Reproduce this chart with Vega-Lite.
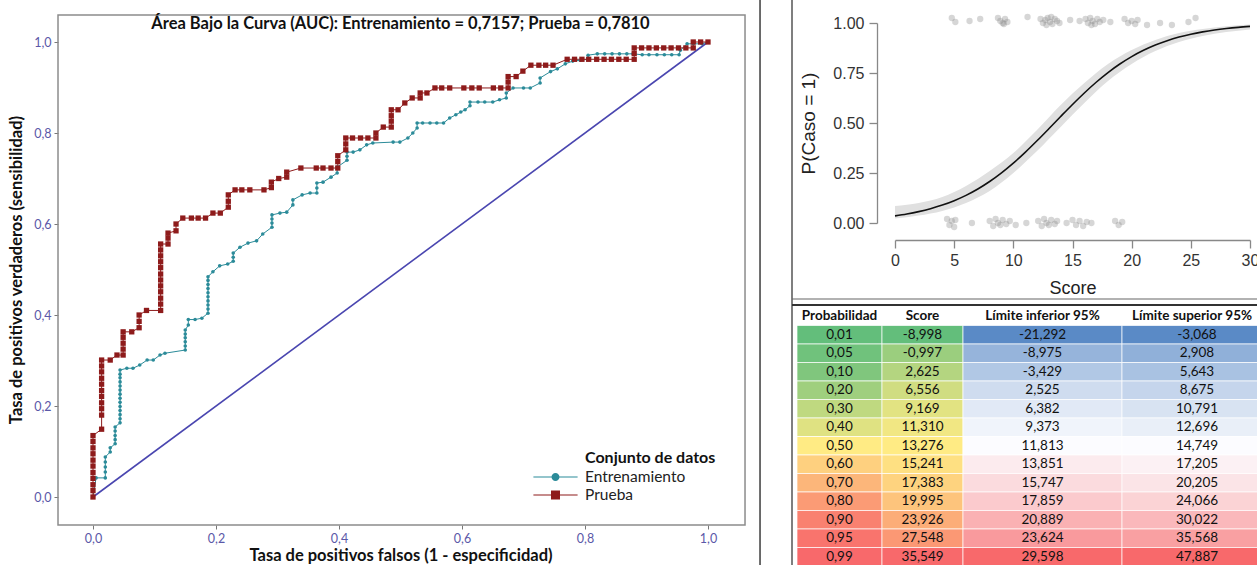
{
  "$schema": "https://vega.github.io/schema/vega-lite/v6.json",
  "width": 1257,
  "height": 565,
  "autosize": {"type": "none"},
  "padding": 0,
  "background": "white",
  "config": {
    "view": {"stroke": null},
    "axis": {"grid": false},
    "locale": {"number": {"decimal": ",", "thousands": ".", "grouping": [3], "currency": ["", ""], "minus": "-"}}
  },
  "datasets": {
    "roc": [
      {"conjunto": "Prueba", "fpr": 0, "tpr": 0}, {"conjunto": "Prueba", "fpr": 0, "tpr": 0.014}, {"conjunto": "Prueba", "fpr": 0, "tpr": 0.027}, {"conjunto": "Prueba", "fpr": 0, "tpr": 0.041}, {"conjunto": "Prueba", "fpr": 0, "tpr": 0.054}, {"conjunto": "Prueba", "fpr": 0, "tpr": 0.068}, {"conjunto": "Prueba", "fpr": 0, "tpr": 0.081}, {"conjunto": "Prueba", "fpr": 0, "tpr": 0.095}, {"conjunto": "Prueba", "fpr": 0, "tpr": 0.108}, {"conjunto": "Prueba", "fpr": 0, "tpr": 0.122}, {"conjunto": "Prueba", "fpr": 0, "tpr": 0.135},
      {"conjunto": "Prueba", "fpr": 0.014, "tpr": 0.149}, {"conjunto": "Prueba", "fpr": 0.014, "tpr": 0.18}, {"conjunto": "Prueba", "fpr": 0.014, "tpr": 0.194}, {"conjunto": "Prueba", "fpr": 0.014, "tpr": 0.207}, {"conjunto": "Prueba", "fpr": 0.014, "tpr": 0.221}, {"conjunto": "Prueba", "fpr": 0.014, "tpr": 0.234}, {"conjunto": "Prueba", "fpr": 0.014, "tpr": 0.248}, {"conjunto": "Prueba", "fpr": 0.014, "tpr": 0.261}, {"conjunto": "Prueba", "fpr": 0.014, "tpr": 0.275}, {"conjunto": "Prueba", "fpr": 0.014, "tpr": 0.288}, {"conjunto": "Prueba", "fpr": 0.014, "tpr": 0.301},
      {"conjunto": "Prueba", "fpr": 0.028, "tpr": 0.301}, {"conjunto": "Prueba", "fpr": 0.039, "tpr": 0.312}, {"conjunto": "Prueba", "fpr": 0.049, "tpr": 0.312}, {"conjunto": "Prueba", "fpr": 0.049, "tpr": 0.325}, {"conjunto": "Prueba", "fpr": 0.049, "tpr": 0.338}, {"conjunto": "Prueba", "fpr": 0.049, "tpr": 0.351}, {"conjunto": "Prueba", "fpr": 0.049, "tpr": 0.363},
      {"conjunto": "Prueba", "fpr": 0.063, "tpr": 0.363}, {"conjunto": "Prueba", "fpr": 0.075, "tpr": 0.372}, {"conjunto": "Prueba", "fpr": 0.075, "tpr": 0.386}, {"conjunto": "Prueba", "fpr": 0.075, "tpr": 0.4}, {"conjunto": "Prueba", "fpr": 0.087, "tpr": 0.41}, {"conjunto": "Prueba", "fpr": 0.11, "tpr": 0.41},
      {"conjunto": "Prueba", "fpr": 0.11, "tpr": 0.424}, {"conjunto": "Prueba", "fpr": 0.11, "tpr": 0.437}, {"conjunto": "Prueba", "fpr": 0.11, "tpr": 0.451}, {"conjunto": "Prueba", "fpr": 0.11, "tpr": 0.464}, {"conjunto": "Prueba", "fpr": 0.11, "tpr": 0.477}, {"conjunto": "Prueba", "fpr": 0.11, "tpr": 0.49}, {"conjunto": "Prueba", "fpr": 0.11, "tpr": 0.504}, {"conjunto": "Prueba", "fpr": 0.11, "tpr": 0.517}, {"conjunto": "Prueba", "fpr": 0.11, "tpr": 0.53}, {"conjunto": "Prueba", "fpr": 0.11, "tpr": 0.543}, {"conjunto": "Prueba", "fpr": 0.11, "tpr": 0.556},
      {"conjunto": "Prueba", "fpr": 0.122, "tpr": 0.556}, {"conjunto": "Prueba", "fpr": 0.122, "tpr": 0.569}, {"conjunto": "Prueba", "fpr": 0.122, "tpr": 0.58}, {"conjunto": "Prueba", "fpr": 0.135, "tpr": 0.585}, {"conjunto": "Prueba", "fpr": 0.135, "tpr": 0.6}, {"conjunto": "Prueba", "fpr": 0.146, "tpr": 0.613}, {"conjunto": "Prueba", "fpr": 0.16, "tpr": 0.613}, {"conjunto": "Prueba", "fpr": 0.171, "tpr": 0.613}, {"conjunto": "Prueba", "fpr": 0.183, "tpr": 0.613}, {"conjunto": "Prueba", "fpr": 0.195, "tpr": 0.624}, {"conjunto": "Prueba", "fpr": 0.207, "tpr": 0.624},
      {"conjunto": "Prueba", "fpr": 0.22, "tpr": 0.637}, {"conjunto": "Prueba", "fpr": 0.22, "tpr": 0.65}, {"conjunto": "Prueba", "fpr": 0.22, "tpr": 0.664}, {"conjunto": "Prueba", "fpr": 0.231, "tpr": 0.675}, {"conjunto": "Prueba", "fpr": 0.242, "tpr": 0.675}, {"conjunto": "Prueba", "fpr": 0.255, "tpr": 0.675}, {"conjunto": "Prueba", "fpr": 0.278, "tpr": 0.675}, {"conjunto": "Prueba", "fpr": 0.29, "tpr": 0.68}, {"conjunto": "Prueba", "fpr": 0.29, "tpr": 0.692}, {"conjunto": "Prueba", "fpr": 0.302, "tpr": 0.7}, {"conjunto": "Prueba", "fpr": 0.315, "tpr": 0.703}, {"conjunto": "Prueba", "fpr": 0.315, "tpr": 0.714}, {"conjunto": "Prueba", "fpr": 0.338, "tpr": 0.723}, {"conjunto": "Prueba", "fpr": 0.363, "tpr": 0.723}, {"conjunto": "Prueba", "fpr": 0.374, "tpr": 0.723}, {"conjunto": "Prueba", "fpr": 0.387, "tpr": 0.723}, {"conjunto": "Prueba", "fpr": 0.398, "tpr": 0.723}, {"conjunto": "Prueba", "fpr": 0.398, "tpr": 0.737}, {"conjunto": "Prueba", "fpr": 0.398, "tpr": 0.75},
      {"conjunto": "Prueba", "fpr": 0.411, "tpr": 0.763}, {"conjunto": "Prueba", "fpr": 0.411, "tpr": 0.776}, {"conjunto": "Prueba", "fpr": 0.411, "tpr": 0.789}, {"conjunto": "Prueba", "fpr": 0.422, "tpr": 0.789}, {"conjunto": "Prueba", "fpr": 0.435, "tpr": 0.789}, {"conjunto": "Prueba", "fpr": 0.447, "tpr": 0.789}, {"conjunto": "Prueba", "fpr": 0.46, "tpr": 0.789}, {"conjunto": "Prueba", "fpr": 0.46, "tpr": 0.8}, {"conjunto": "Prueba", "fpr": 0.472, "tpr": 0.813}, {"conjunto": "Prueba", "fpr": 0.485, "tpr": 0.813}, {"conjunto": "Prueba", "fpr": 0.485, "tpr": 0.826}, {"conjunto": "Prueba", "fpr": 0.485, "tpr": 0.838}, {"conjunto": "Prueba", "fpr": 0.485, "tpr": 0.851}, {"conjunto": "Prueba", "fpr": 0.496, "tpr": 0.851}, {"conjunto": "Prueba", "fpr": 0.507, "tpr": 0.866}, {"conjunto": "Prueba", "fpr": 0.519, "tpr": 0.877}, {"conjunto": "Prueba", "fpr": 0.532, "tpr": 0.877}, {"conjunto": "Prueba", "fpr": 0.532, "tpr": 0.888}, {"conjunto": "Prueba", "fpr": 0.543, "tpr": 0.888},
      {"conjunto": "Prueba", "fpr": 0.556, "tpr": 0.899}, {"conjunto": "Prueba", "fpr": 0.567, "tpr": 0.899}, {"conjunto": "Prueba", "fpr": 0.58, "tpr": 0.899}, {"conjunto": "Prueba", "fpr": 0.603, "tpr": 0.899}, {"conjunto": "Prueba", "fpr": 0.616, "tpr": 0.899}, {"conjunto": "Prueba", "fpr": 0.628, "tpr": 0.899}, {"conjunto": "Prueba", "fpr": 0.651, "tpr": 0.899}, {"conjunto": "Prueba", "fpr": 0.663, "tpr": 0.899}, {"conjunto": "Prueba", "fpr": 0.675, "tpr": 0.899}, {"conjunto": "Prueba", "fpr": 0.675, "tpr": 0.912}, {"conjunto": "Prueba", "fpr": 0.675, "tpr": 0.924}, {"conjunto": "Prueba", "fpr": 0.688, "tpr": 0.924}, {"conjunto": "Prueba", "fpr": 0.699, "tpr": 0.936}, {"conjunto": "Prueba", "fpr": 0.712, "tpr": 0.949}, {"conjunto": "Prueba", "fpr": 0.725, "tpr": 0.949}, {"conjunto": "Prueba", "fpr": 0.736, "tpr": 0.949}, {"conjunto": "Prueba", "fpr": 0.748, "tpr": 0.949},
      {"conjunto": "Prueba", "fpr": 0.771, "tpr": 0.962}, {"conjunto": "Prueba", "fpr": 0.783, "tpr": 0.962}, {"conjunto": "Prueba", "fpr": 0.795, "tpr": 0.962}, {"conjunto": "Prueba", "fpr": 0.806, "tpr": 0.962}, {"conjunto": "Prueba", "fpr": 0.819, "tpr": 0.962}, {"conjunto": "Prueba", "fpr": 0.831, "tpr": 0.962}, {"conjunto": "Prueba", "fpr": 0.843, "tpr": 0.962}, {"conjunto": "Prueba", "fpr": 0.855, "tpr": 0.962}, {"conjunto": "Prueba", "fpr": 0.867, "tpr": 0.962}, {"conjunto": "Prueba", "fpr": 0.88, "tpr": 0.962}, {"conjunto": "Prueba", "fpr": 0.88, "tpr": 0.975}, {"conjunto": "Prueba", "fpr": 0.88, "tpr": 0.987}, {"conjunto": "Prueba", "fpr": 0.892, "tpr": 0.987}, {"conjunto": "Prueba", "fpr": 0.904, "tpr": 0.987}, {"conjunto": "Prueba", "fpr": 0.916, "tpr": 0.987}, {"conjunto": "Prueba", "fpr": 0.928, "tpr": 0.987}, {"conjunto": "Prueba", "fpr": 0.94, "tpr": 0.987}, {"conjunto": "Prueba", "fpr": 0.952, "tpr": 0.987}, {"conjunto": "Prueba", "fpr": 0.964, "tpr": 0.987}, {"conjunto": "Prueba", "fpr": 0.976, "tpr": 0.987}, {"conjunto": "Prueba", "fpr": 0.976, "tpr": 1}, {"conjunto": "Prueba", "fpr": 0.988, "tpr": 1}, {"conjunto": "Prueba", "fpr": 1, "tpr": 1},
      {"conjunto": "Entrenamiento", "fpr": 0, "tpr": 0}, {"conjunto": "Entrenamiento", "fpr": 0.005, "tpr": 0.042}, {"conjunto": "Entrenamiento", "fpr": 0.02, "tpr": 0.042}, {"conjunto": "Entrenamiento", "fpr": 0.02, "tpr": 0.055}, {"conjunto": "Entrenamiento", "fpr": 0.02, "tpr": 0.066}, {"conjunto": "Entrenamiento", "fpr": 0.02, "tpr": 0.077}, {"conjunto": "Entrenamiento", "fpr": 0.02, "tpr": 0.088}, {"conjunto": "Entrenamiento", "fpr": 0.028, "tpr": 0.099}, {"conjunto": "Entrenamiento", "fpr": 0.028, "tpr": 0.108}, {"conjunto": "Entrenamiento", "fpr": 0.036, "tpr": 0.117}, {"conjunto": "Entrenamiento", "fpr": 0.036, "tpr": 0.126}, {"conjunto": "Entrenamiento", "fpr": 0.036, "tpr": 0.135}, {"conjunto": "Entrenamiento", "fpr": 0.036, "tpr": 0.145}, {"conjunto": "Entrenamiento", "fpr": 0.036, "tpr": 0.154},
      {"conjunto": "Entrenamiento", "fpr": 0.044, "tpr": 0.163}, {"conjunto": "Entrenamiento", "fpr": 0.044, "tpr": 0.172}, {"conjunto": "Entrenamiento", "fpr": 0.044, "tpr": 0.181}, {"conjunto": "Entrenamiento", "fpr": 0.044, "tpr": 0.19}, {"conjunto": "Entrenamiento", "fpr": 0.044, "tpr": 0.199}, {"conjunto": "Entrenamiento", "fpr": 0.044, "tpr": 0.208}, {"conjunto": "Entrenamiento", "fpr": 0.044, "tpr": 0.217}, {"conjunto": "Entrenamiento", "fpr": 0.044, "tpr": 0.226}, {"conjunto": "Entrenamiento", "fpr": 0.044, "tpr": 0.235}, {"conjunto": "Entrenamiento", "fpr": 0.044, "tpr": 0.244}, {"conjunto": "Entrenamiento", "fpr": 0.044, "tpr": 0.253}, {"conjunto": "Entrenamiento", "fpr": 0.044, "tpr": 0.262}, {"conjunto": "Entrenamiento", "fpr": 0.044, "tpr": 0.27}, {"conjunto": "Entrenamiento", "fpr": 0.044, "tpr": 0.279},
      {"conjunto": "Entrenamiento", "fpr": 0.055, "tpr": 0.283}, {"conjunto": "Entrenamiento", "fpr": 0.065, "tpr": 0.283}, {"conjunto": "Entrenamiento", "fpr": 0.076, "tpr": 0.29}, {"conjunto": "Entrenamiento", "fpr": 0.088, "tpr": 0.301}, {"conjunto": "Entrenamiento", "fpr": 0.098, "tpr": 0.301}, {"conjunto": "Entrenamiento", "fpr": 0.109, "tpr": 0.312}, {"conjunto": "Entrenamiento", "fpr": 0.117, "tpr": 0.316}, {"conjunto": "Entrenamiento", "fpr": 0.15, "tpr": 0.323}, {"conjunto": "Entrenamiento", "fpr": 0.15, "tpr": 0.332}, {"conjunto": "Entrenamiento", "fpr": 0.15, "tpr": 0.341}, {"conjunto": "Entrenamiento", "fpr": 0.15, "tpr": 0.35}, {"conjunto": "Entrenamiento", "fpr": 0.15, "tpr": 0.358}, {"conjunto": "Entrenamiento", "fpr": 0.15, "tpr": 0.367}, {"conjunto": "Entrenamiento", "fpr": 0.155, "tpr": 0.378}, {"conjunto": "Entrenamiento", "fpr": 0.155, "tpr": 0.39}, {"conjunto": "Entrenamiento", "fpr": 0.166, "tpr": 0.39}, {"conjunto": "Entrenamiento", "fpr": 0.177, "tpr": 0.393},
      {"conjunto": "Entrenamiento", "fpr": 0.187, "tpr": 0.404}, {"conjunto": "Entrenamiento", "fpr": 0.187, "tpr": 0.413}, {"conjunto": "Entrenamiento", "fpr": 0.187, "tpr": 0.422}, {"conjunto": "Entrenamiento", "fpr": 0.187, "tpr": 0.431}, {"conjunto": "Entrenamiento", "fpr": 0.187, "tpr": 0.44}, {"conjunto": "Entrenamiento", "fpr": 0.187, "tpr": 0.449}, {"conjunto": "Entrenamiento", "fpr": 0.187, "tpr": 0.458}, {"conjunto": "Entrenamiento", "fpr": 0.187, "tpr": 0.467}, {"conjunto": "Entrenamiento", "fpr": 0.187, "tpr": 0.476}, {"conjunto": "Entrenamiento", "fpr": 0.187, "tpr": 0.484}, {"conjunto": "Entrenamiento", "fpr": 0.195, "tpr": 0.495}, {"conjunto": "Entrenamiento", "fpr": 0.206, "tpr": 0.508}, {"conjunto": "Entrenamiento", "fpr": 0.219, "tpr": 0.512}, {"conjunto": "Entrenamiento", "fpr": 0.228, "tpr": 0.518}, {"conjunto": "Entrenamiento", "fpr": 0.228, "tpr": 0.527}, {"conjunto": "Entrenamiento", "fpr": 0.228, "tpr": 0.536}, {"conjunto": "Entrenamiento", "fpr": 0.239, "tpr": 0.549}, {"conjunto": "Entrenamiento", "fpr": 0.252, "tpr": 0.558}, {"conjunto": "Entrenamiento", "fpr": 0.266, "tpr": 0.563}, {"conjunto": "Entrenamiento", "fpr": 0.276, "tpr": 0.578},
      {"conjunto": "Entrenamiento", "fpr": 0.291, "tpr": 0.593}, {"conjunto": "Entrenamiento", "fpr": 0.291, "tpr": 0.602}, {"conjunto": "Entrenamiento", "fpr": 0.291, "tpr": 0.611}, {"conjunto": "Entrenamiento", "fpr": 0.291, "tpr": 0.62}, {"conjunto": "Entrenamiento", "fpr": 0.304, "tpr": 0.624}, {"conjunto": "Entrenamiento", "fpr": 0.315, "tpr": 0.626}, {"conjunto": "Entrenamiento", "fpr": 0.325, "tpr": 0.642}, {"conjunto": "Entrenamiento", "fpr": 0.325, "tpr": 0.653}, {"conjunto": "Entrenamiento", "fpr": 0.34, "tpr": 0.664}, {"conjunto": "Entrenamiento", "fpr": 0.353, "tpr": 0.668}, {"conjunto": "Entrenamiento", "fpr": 0.364, "tpr": 0.668}, {"conjunto": "Entrenamiento", "fpr": 0.364, "tpr": 0.679}, {"conjunto": "Entrenamiento", "fpr": 0.364, "tpr": 0.69}, {"conjunto": "Entrenamiento", "fpr": 0.374, "tpr": 0.692}, {"conjunto": "Entrenamiento", "fpr": 0.387, "tpr": 0.703}, {"conjunto": "Entrenamiento", "fpr": 0.397, "tpr": 0.712}, {"conjunto": "Entrenamiento", "fpr": 0.397, "tpr": 0.725},
      {"conjunto": "Entrenamiento", "fpr": 0.413, "tpr": 0.74}, {"conjunto": "Entrenamiento", "fpr": 0.413, "tpr": 0.749}, {"conjunto": "Entrenamiento", "fpr": 0.413, "tpr": 0.758}, {"conjunto": "Entrenamiento", "fpr": 0.423, "tpr": 0.758}, {"conjunto": "Entrenamiento", "fpr": 0.434, "tpr": 0.763}, {"conjunto": "Entrenamiento", "fpr": 0.445, "tpr": 0.774}, {"conjunto": "Entrenamiento", "fpr": 0.455, "tpr": 0.778}, {"conjunto": "Entrenamiento", "fpr": 0.488, "tpr": 0.78}, {"conjunto": "Entrenamiento", "fpr": 0.499, "tpr": 0.78}, {"conjunto": "Entrenamiento", "fpr": 0.512, "tpr": 0.789}, {"conjunto": "Entrenamiento", "fpr": 0.52, "tpr": 0.8}, {"conjunto": "Entrenamiento", "fpr": 0.527, "tpr": 0.811}, {"conjunto": "Entrenamiento", "fpr": 0.527, "tpr": 0.822}, {"conjunto": "Entrenamiento", "fpr": 0.536, "tpr": 0.822}, {"conjunto": "Entrenamiento", "fpr": 0.548, "tpr": 0.822}, {"conjunto": "Entrenamiento", "fpr": 0.559, "tpr": 0.822}, {"conjunto": "Entrenamiento", "fpr": 0.57, "tpr": 0.822},
      {"conjunto": "Entrenamiento", "fpr": 0.58, "tpr": 0.833}, {"conjunto": "Entrenamiento", "fpr": 0.59, "tpr": 0.84}, {"conjunto": "Entrenamiento", "fpr": 0.598, "tpr": 0.846}, {"conjunto": "Entrenamiento", "fpr": 0.605, "tpr": 0.851}, {"conjunto": "Entrenamiento", "fpr": 0.613, "tpr": 0.86}, {"conjunto": "Entrenamiento", "fpr": 0.613, "tpr": 0.868}, {"conjunto": "Entrenamiento", "fpr": 0.626, "tpr": 0.868}, {"conjunto": "Entrenamiento", "fpr": 0.637, "tpr": 0.868}, {"conjunto": "Entrenamiento", "fpr": 0.65, "tpr": 0.868}, {"conjunto": "Entrenamiento", "fpr": 0.661, "tpr": 0.873}, {"conjunto": "Entrenamiento", "fpr": 0.672, "tpr": 0.877}, {"conjunto": "Entrenamiento", "fpr": 0.672, "tpr": 0.888}, {"conjunto": "Entrenamiento", "fpr": 0.683, "tpr": 0.899}, {"conjunto": "Entrenamiento", "fpr": 0.7, "tpr": 0.899}, {"conjunto": "Entrenamiento", "fpr": 0.711, "tpr": 0.899}, {"conjunto": "Entrenamiento", "fpr": 0.727, "tpr": 0.91}, {"conjunto": "Entrenamiento", "fpr": 0.727, "tpr": 0.921}, {"conjunto": "Entrenamiento", "fpr": 0.744, "tpr": 0.935}, {"conjunto": "Entrenamiento", "fpr": 0.755, "tpr": 0.941}, {"conjunto": "Entrenamiento", "fpr": 0.768, "tpr": 0.952}, {"conjunto": "Entrenamiento", "fpr": 0.78, "tpr": 0.958}, {"conjunto": "Entrenamiento", "fpr": 0.792, "tpr": 0.96}, {"conjunto": "Entrenamiento", "fpr": 0.805, "tpr": 0.962}, {"conjunto": "Entrenamiento", "fpr": 0.805, "tpr": 0.971},
      {"conjunto": "Entrenamiento", "fpr": 0.82, "tpr": 0.974}, {"conjunto": "Entrenamiento", "fpr": 0.832, "tpr": 0.974}, {"conjunto": "Entrenamiento", "fpr": 0.844, "tpr": 0.974}, {"conjunto": "Entrenamiento", "fpr": 0.856, "tpr": 0.974}, {"conjunto": "Entrenamiento", "fpr": 0.868, "tpr": 0.974}, {"conjunto": "Entrenamiento", "fpr": 0.878, "tpr": 0.974}, {"conjunto": "Entrenamiento", "fpr": 0.893, "tpr": 0.972}, {"conjunto": "Entrenamiento", "fpr": 0.904, "tpr": 0.972}, {"conjunto": "Entrenamiento", "fpr": 0.917, "tpr": 0.972}, {"conjunto": "Entrenamiento", "fpr": 0.929, "tpr": 0.972}, {"conjunto": "Entrenamiento", "fpr": 0.941, "tpr": 0.972}, {"conjunto": "Entrenamiento", "fpr": 0.953, "tpr": 0.972}, {"conjunto": "Entrenamiento", "fpr": 0.955, "tpr": 0.982}, {"conjunto": "Entrenamiento", "fpr": 0.966, "tpr": 0.996}, {"conjunto": "Entrenamiento", "fpr": 0.976, "tpr": 0.996}, {"conjunto": "Entrenamiento", "fpr": 0.99, "tpr": 0.996}, {"conjunto": "Entrenamiento", "fpr": 1, "tpr": 1}
    ],
    "curva": [
      {"score": 0, "p": 0.0356}, {"score": 1, "p": 0.045}, {"score": 2, "p": 0.0568}, {"score": 3, "p": 0.0714}, {"score": 4, "p": 0.0895}, {"score": 5, "p": 0.1116}, {"score": 6, "p": 0.1382}, {"score": 7, "p": 0.1701}, {"score": 8, "p": 0.2075}, {"score": 9, "p": 0.2507}, {"score": 10, "p": 0.2994}, {"score": 11, "p": 0.3532}, {"score": 12, "p": 0.411}, {"score": 13, "p": 0.4713}, {"score": 14, "p": 0.5325}, {"score": 15, "p": 0.5927}, {"score": 16, "p": 0.6502}, {"score": 17, "p": 0.7037}, {"score": 18, "p": 0.7521}, {"score": 19, "p": 0.7949}, {"score": 20, "p": 0.832}, {"score": 21, "p": 0.8635}, {"score": 22, "p": 0.8899}, {"score": 23, "p": 0.9117}, {"score": 24, "p": 0.9296}, {"score": 25, "p": 0.944}, {"score": 26, "p": 0.9556}, {"score": 27, "p": 0.965}, {"score": 28, "p": 0.9724}, {"score": 29, "p": 0.9783}, {"score": 30, "p": 0.9829}
    ],
    "banda": [
      {"score": 0, "lo": 0.022, "hi": 0.085}, {"score": 2, "lo": 0.037, "hi": 0.1}, {"score": 4, "lo": 0.06, "hi": 0.13}, {"score": 6, "lo": 0.1, "hi": 0.185}, {"score": 8, "lo": 0.16, "hi": 0.26}, {"score": 10, "lo": 0.25, "hi": 0.35}, {"score": 12, "lo": 0.36, "hi": 0.465}, {"score": 14, "lo": 0.48, "hi": 0.59}, {"score": 16, "lo": 0.6, "hi": 0.7}, {"score": 18, "lo": 0.71, "hi": 0.795}, {"score": 20, "lo": 0.795, "hi": 0.865}, {"score": 22, "lo": 0.86, "hi": 0.915}, {"score": 24, "lo": 0.905, "hi": 0.95}, {"score": 26, "lo": 0.935, "hi": 0.97}, {"score": 28, "lo": 0.955, "hi": 0.984}, {"score": 30, "lo": 0.968, "hi": 0.992}
    ],
    "obs": [
      {"score": 4.8, "caso": 1, "yj": 1.025}, {"score": 5.1, "caso": 1, "yj": 1.005}, {"score": 6.3, "caso": 1, "yj": 1.01}, {"score": 7.2, "caso": 1, "yj": 1.02}, {"score": 8.7, "caso": 1, "yj": 1.025}, {"score": 8.9, "caso": 1, "yj": 1.01}, {"score": 9.1, "caso": 1, "yj": 1.0}, {"score": 9.3, "caso": 1, "yj": 1.02}, {"score": 9.5, "caso": 1, "yj": 1.005}, {"score": 9.2, "caso": 1, "yj": 0.995}, {"score": 11.2, "caso": 1, "yj": 1.03}, {"score": 12.3, "caso": 1, "yj": 1.02}, {"score": 12.5, "caso": 1, "yj": 1.0}, {"score": 12.7, "caso": 1, "yj": 1.015}, {"score": 12.9, "caso": 1, "yj": 1.025}, {"score": 13.1, "caso": 1, "yj": 1.005}, {"score": 13.3, "caso": 1, "yj": 0.995}, {"score": 13.5, "caso": 1, "yj": 1.02}, {"score": 13.7, "caso": 1, "yj": 1.01}, {"score": 12.8, "caso": 1, "yj": 0.99}, {"score": 13.2, "caso": 1, "yj": 1.03}, {"score": 13.9, "caso": 1, "yj": 1.0}, {"score": 14.8, "caso": 1, "yj": 1.015}, {"score": 15.6, "caso": 1, "yj": 1.01}, {"score": 16.1, "caso": 1, "yj": 1.02}, {"score": 16.3, "caso": 1, "yj": 1.0}, {"score": 16.5, "caso": 1, "yj": 1.025}, {"score": 16.7, "caso": 1, "yj": 1.01}, {"score": 16.9, "caso": 1, "yj": 0.995}, {"score": 17.1, "caso": 1, "yj": 1.02}, {"score": 17.3, "caso": 1, "yj": 1.005}, {"score": 17.6, "caso": 1, "yj": 1.015}, {"score": 16.6, "caso": 1, "yj": 0.99}, {"score": 18.2, "caso": 1, "yj": 1.005}, {"score": 19.4, "caso": 1, "yj": 1.02}, {"score": 19.7, "caso": 1, "yj": 1.0}, {"score": 20.0, "caso": 1, "yj": 1.01}, {"score": 20.3, "caso": 1, "yj": 0.995}, {"score": 20.5, "caso": 1, "yj": 1.015}, {"score": 21.3, "caso": 1, "yj": 0.99}, {"score": 22.4, "caso": 1, "yj": 1.0}, {"score": 23.4, "caso": 1, "yj": 0.99}, {"score": 24.8, "caso": 1, "yj": 1.005}, {"score": 25.4, "caso": 1, "yj": 1.025},
      {"score": 4.4, "caso": 0, "yj": 0.02}, {"score": 4.6, "caso": 0, "yj": -0.01}, {"score": 4.8, "caso": 0, "yj": 0.01}, {"score": 5.0, "caso": 0, "yj": -0.02}, {"score": 5.1, "caso": 0, "yj": 0.015}, {"score": 6.5, "caso": 0, "yj": 0.0}, {"score": 8.0, "caso": 0, "yj": 0.01}, {"score": 8.3, "caso": 0, "yj": -0.015}, {"score": 8.5, "caso": 0, "yj": 0.02}, {"score": 8.7, "caso": 0, "yj": 0.0}, {"score": 8.9, "caso": 0, "yj": -0.01}, {"score": 9.1, "caso": 0, "yj": 0.015}, {"score": 9.4, "caso": 0, "yj": -0.005}, {"score": 9.7, "caso": 0, "yj": 0.01}, {"score": 10.2, "caso": 0, "yj": -0.01}, {"score": 11.1, "caso": 0, "yj": 0.0}, {"score": 12.1, "caso": 0, "yj": 0.01}, {"score": 12.4, "caso": 0, "yj": -0.015}, {"score": 12.6, "caso": 0, "yj": 0.02}, {"score": 12.8, "caso": 0, "yj": 0.0}, {"score": 13.0, "caso": 0, "yj": -0.01}, {"score": 13.2, "caso": 0, "yj": 0.015}, {"score": 13.5, "caso": 0, "yj": -0.005}, {"score": 13.7, "caso": 0, "yj": 0.01}, {"score": 14.5, "caso": 0, "yj": 0.0}, {"score": 15.0, "caso": 0, "yj": 0.015}, {"score": 15.3, "caso": 0, "yj": -0.01}, {"score": 15.6, "caso": 0, "yj": 0.01}, {"score": 15.9, "caso": 0, "yj": -0.015}, {"score": 16.2, "caso": 0, "yj": 0.005}, {"score": 16.6, "caso": 0, "yj": 0.0}, {"score": 18.6, "caso": 0, "yj": 0.01}, {"score": 18.9, "caso": 0, "yj": -0.01}, {"score": 19.2, "caso": 0, "yj": 0.005}
    ],
    "tabla": [
      {"p": 0.01, "s": -8.998, "lo": -21.292, "hi": -3.068},
      {"p": 0.05, "s": -0.997, "lo": -8.975, "hi": 2.908},
      {"p": 0.1, "s": 2.625, "lo": -3.429, "hi": 5.643},
      {"p": 0.2, "s": 6.556, "lo": 2.525, "hi": 8.675},
      {"p": 0.3, "s": 9.169, "lo": 6.382, "hi": 10.791},
      {"p": 0.4, "s": 11.31, "lo": 9.373, "hi": 12.696},
      {"p": 0.5, "s": 13.276, "lo": 11.813, "hi": 14.749},
      {"p": 0.6, "s": 15.241, "lo": 13.851, "hi": 17.205},
      {"p": 0.7, "s": 17.383, "lo": 15.747, "hi": 20.205},
      {"p": 0.8, "s": 19.995, "lo": 17.859, "hi": 24.066},
      {"p": 0.9, "s": 23.926, "lo": 20.889, "hi": 30.022},
      {"p": 0.95, "s": 27.548, "lo": 23.624, "hi": 35.568},
      {"p": 0.99, "s": 35.549, "lo": 29.598, "hi": 47.887}
    ]
  },
  "resolve": {"scale": {"x": "independent", "y": "independent", "fill": "independent"}},
  "layer": [
    {
      "data": {"values": [{}]},
      "mark": {"type": "rect", "fill": "transparent", "stroke": "#8c8c8c", "strokeWidth": 1.5},
      "encoding": {
        "x": {"datum": -0.0569, "type": "quantitative", "scale": {"domain": [0, 1], "range": [93, 708], "nice": false, "zero": false}, "axis": null},
        "x2": {"datum": 1.0602},
        "y": {"datum": 1.0593, "type": "quantitative", "scale": {"domain": [0, 1], "range": [497, 42], "nice": false, "zero": false}, "axis": null},
        "y2": {"datum": -0.0615}
      }
    },
    {
      "data": {"values": [{}]},
      "mark": {"type": "rule", "color": "#3c3c3c", "strokeWidth": 1.5},
      "encoding": {
        "x": {"datum": 1.0846, "type": "quantitative", "scale": {"domain": [0, 1], "range": [93, 708], "nice": false, "zero": false}, "axis": null},
        "y": {"datum": -0.2, "type": "quantitative", "scale": {"domain": [0, 1], "range": [497, 42], "nice": false, "zero": false}, "axis": null},
        "y2": {"datum": 1.2}
      }
    },
    {
      "data": {"values": [{"fpr": 0, "tpr": 0}, {"fpr": 1, "tpr": 1}]},
      "mark": {"type": "line", "color": "#4a46b0", "strokeWidth": 1.6},
      "encoding": {
        "x": {"field": "fpr", "type": "quantitative", "scale": {"domain": [0, 1], "range": [93, 708], "nice": false, "zero": false},
          "axis": {"orient": "bottom", "offset": -40, "values": [0, 0.2, 0.4, 0.6, 0.8, 1], "format": ".1f", "domain": false, "tickSize": 4, "tickColor": "#777", "labelColor": "#5b58a8", "labelFont": "Lato", "labelFontSize": 12.5, "labelPadding": 3, "labelFlush": false, "title": "Tasa de positivos falsos (1 - especificidad)", "titleFont": "Lato", "titleFontSize": 16.5, "titleFontWeight": "bold", "titleColor": "#111", "titlePadding": 3}},
        "y": {"field": "tpr", "type": "quantitative", "scale": {"domain": [0, 1], "range": [497, 42], "nice": false, "zero": false},
          "axis": {"orient": "left", "offset": -58, "values": [0, 0.2, 0.4, 0.6, 0.8, 1], "format": ".1f", "domain": false, "tickSize": 4, "tickColor": "#777", "labelColor": "#5b58a8", "labelFont": "Lato", "labelFontSize": 12.5, "labelPadding": 3, "title": "Tasa de positivos verdaderos (sensibilidad)", "titleFont": "Lato", "titleFontSize": 16.5, "titleFontWeight": "bold", "titleColor": "#111", "titlePadding": 9}}
      }
    },
    {
      "data": {"name": "roc"},
      "transform": [{"filter": "datum.conjunto === 'Entrenamiento'"}],
      "mark": {"type": "line", "color": "#2b8b99", "strokeWidth": 1},
      "encoding": {
        "x": {"field": "fpr", "type": "quantitative", "scale": {"domain": [0, 1], "range": [93, 708], "nice": false, "zero": false}, "axis": null},
        "y": {"field": "tpr", "type": "quantitative", "scale": {"domain": [0, 1], "range": [497, 42], "nice": false, "zero": false}, "axis": null}
      }
    },
    {
      "data": {"name": "roc"},
      "transform": [{"filter": "datum.conjunto === 'Prueba'"}],
      "mark": {"type": "line", "color": "#8e1b1b", "strokeWidth": 1},
      "encoding": {
        "x": {"field": "fpr", "type": "quantitative", "scale": {"domain": [0, 1], "range": [93, 708], "nice": false, "zero": false}, "axis": null},
        "y": {"field": "tpr", "type": "quantitative", "scale": {"domain": [0, 1], "range": [497, 42], "nice": false, "zero": false}, "axis": null}
      }
    },
    {
      "data": {"name": "roc"},
      "transform": [{"filter": "datum.conjunto === 'Entrenamiento'"}],
      "mark": {"type": "point", "shape": "circle", "filled": true, "opacity": 1, "size": 13, "color": "#2b8b99"},
      "encoding": {
        "x": {"field": "fpr", "type": "quantitative", "scale": {"domain": [0, 1], "range": [93, 708], "nice": false, "zero": false}, "axis": null},
        "y": {"field": "tpr", "type": "quantitative", "scale": {"domain": [0, 1], "range": [497, 42], "nice": false, "zero": false}, "axis": null}
      }
    },
    {
      "data": {"name": "roc"},
      "transform": [{"filter": "datum.conjunto === 'Prueba'"}],
      "mark": {"type": "point", "shape": "square", "filled": true, "opacity": 1, "size": 28, "color": "#8e1b1b"},
      "encoding": {
        "x": {"field": "fpr", "type": "quantitative", "scale": {"domain": [0, 1], "range": [93, 708], "nice": false, "zero": false}, "axis": null},
        "y": {"field": "tpr", "type": "quantitative", "scale": {"domain": [0, 1], "range": [497, 42], "nice": false, "zero": false}, "axis": null}
      }
    },
    {
      "data": {"name": "roc"},
      "transform": [{"filter": "datum.fpr > 5"}],
      "mark": {"type": "point", "filled": true, "opacity": 1},
      "encoding": {
        "x": {"field": "fpr", "type": "quantitative", "scale": {"domain": [0, 1], "range": [93, 708], "nice": false, "zero": false}, "axis": null},
        "y": {"field": "tpr", "type": "quantitative", "scale": {"domain": [0, 1], "range": [497, 42], "nice": false, "zero": false}, "axis": null},
        "color": {"field": "conjunto", "type": "nominal", "scale": {"domain": ["Entrenamiento", "Prueba"], "range": ["#2b8b99", "#8e1b1b"]},
          "legend": {"orient": "none", "legendX": 546, "legendY": 467.5, "padding": 0, "rowPadding": 0, "labelOffset": 20, "symbolSize": 289, "title": null, "labelFont": "Lato", "labelFontSize": 15.5, "labelColor": "#222", "symbolOpacity": 1}},
        "shape": {"field": "conjunto", "type": "nominal", "scale": {"domain": ["Entrenamiento", "Prueba"], "range": ["M-2.6,-0.06H-0.45V0.06H-2.6Z M0.45,-0.06H2.6V0.06H0.45Z M0.47,0A0.47,0.47,0,1,1,-0.47,0A0.47,0.47,0,1,1,0.47,0Z", "M-2.6,-0.06H-0.5V0.06H-2.6Z M0.5,-0.06H2.6V0.06H0.5Z M-0.53,-0.53H0.53V0.53H-0.53Z"]},
          "legend": {"orient": "none", "legendX": 546, "legendY": 467.5, "padding": 0, "rowPadding": 0, "labelOffset": 20, "symbolSize": 289, "title": null, "labelFont": "Lato", "labelFontSize": 15.5, "labelColor": "#222", "symbolOpacity": 1}}
      }
    },
    {
      "data": {"values": [{"t": "Conjunto de datos"}]},
      "mark": {"type": "text", "font": "Lato", "fontSize": 16, "fontWeight": "bold", "color": "#111", "align": "left"},
      "encoding": {
        "x": {"datum": 0.8, "type": "quantitative", "scale": {"domain": [0, 1], "range": [93, 708], "nice": false, "zero": false}, "axis": null},
        "y": {"datum": 0.0857, "type": "quantitative", "scale": {"domain": [0, 1], "range": [497, 42], "nice": false, "zero": false}, "axis": null},
        "text": {"field": "t", "type": "nominal"}
      }
    },
    {
      "data": {"values": [{"t": "Área Bajo la Curva (AUC): Entrenamiento = 0,7157; Prueba = 0,7810"}]},
      "mark": {"type": "text", "font": "Lato", "fontSize": 16.5, "fontWeight": "bold", "color": "#111"},
      "encoding": {
        "x": {"datum": 0.5, "type": "quantitative", "scale": {"domain": [0, 1], "range": [93, 708], "nice": false, "zero": false}, "axis": null},
        "y": {"datum": 1.0396, "type": "quantitative", "scale": {"domain": [0, 1], "range": [497, 42], "nice": false, "zero": false}, "axis": null},
        "text": {"field": "t", "type": "nominal"}
      }
    },
    {
      "data": {"name": "banda"},
      "mark": {"type": "area", "color": "#e0e0e0", "interpolate": "monotone", "opacity": 1},
      "encoding": {
        "x": {"field": "score", "type": "quantitative", "scale": {"domain": [0, 30], "range": [895, 1250], "nice": false, "zero": false}, "axis": null},
        "y": {"field": "lo", "type": "quantitative", "scale": {"domain": [0, 1], "range": [223, 23], "nice": false, "zero": false}, "axis": null},
        "y2": {"field": "hi"}
      }
    },
    {
      "data": {"name": "curva"},
      "mark": {"type": "line", "color": "#111111", "strokeWidth": 1.6, "interpolate": "monotone"},
      "encoding": {
        "x": {"field": "score", "type": "quantitative", "scale": {"domain": [0, 30], "range": [895, 1250], "nice": false, "zero": false},
          "axis": {"orient": "bottom", "offset": -325, "values": [0, 5, 10, 15, 20, 25, 30], "format": "d", "domainColor": "#888", "domainWidth": 1.3, "tickSize": 8, "tickColor": "#888", "tickWidth": 1.3, "labelFont": "Liberation Sans", "labelFontSize": 16, "labelColor": "#333", "labelPadding": 4, "labelFlush": false, "labelOverlap": false, "title": "Score", "titleFont": "Liberation Sans", "titleFontSize": 18, "titleFontWeight": "normal", "titleColor": "#222", "titlePadding": 11}},
        "y": {"field": "p", "type": "quantitative", "scale": {"domain": [0, 1], "range": [223, 23], "nice": false, "zero": false},
          "axis": {"orient": "left", "offset": -877, "values": [0, 0.25, 0.5, 0.75, 1], "format": ".2f", "labelExpr": "replace(datum.label, ',', '.')", "domainColor": "#888", "domainWidth": 1.3, "tickSize": 8, "tickColor": "#888", "tickWidth": 1.3, "labelFont": "Liberation Sans", "labelFontSize": 16, "labelColor": "#333", "labelPadding": 5, "labelOverlap": false, "title": "P(Caso = 1)", "titleFont": "Liberation Sans", "titleFontSize": 19, "titleFontWeight": "normal", "titleColor": "#222", "titlePadding": 14}}
      }
    },
    {
      "data": {"name": "obs"},
      "mark": {"type": "circle", "color": "#8a8a8a", "opacity": 0.35, "size": 40},
      "encoding": {
        "x": {"field": "score", "type": "quantitative", "scale": {"domain": [0, 30], "range": [895, 1250], "nice": false, "zero": false}, "axis": null},
        "y": {"field": "yj", "type": "quantitative", "scale": {"domain": [0, 1], "range": [223, 23], "nice": false, "zero": false}, "axis": null}
      }
    },
    {
      "data": {"values": [{}]},
      "mark": {"type": "rule", "color": "#555555", "strokeWidth": 1.5},
      "encoding": {
        "x": {"datum": -8.704, "type": "quantitative", "scale": {"domain": [0, 30], "range": [895, 1250], "nice": false, "zero": false}, "axis": null},
        "y": {"datum": -1.8, "type": "quantitative", "scale": {"domain": [0, 1], "range": [223, 23], "nice": false, "zero": false}, "axis": null},
        "y2": {"datum": 1.2}
      }
    },
    {
      "data": {"values": [{}]},
      "mark": {"type": "rule", "color": "#666666", "strokeWidth": 1.2},
      "encoding": {
        "x": {"datum": -8.704, "type": "quantitative", "scale": {"domain": [0, 30], "range": [895, 1250], "nice": false, "zero": false}, "axis": null},
        "x2": {"datum": 32},
        "y": {"datum": -0.38, "type": "quantitative", "scale": {"domain": [0, 1], "range": [223, 23], "nice": false, "zero": false}, "axis": null}
      }
    },
    {
      "data": {"values": [{}]},
      "mark": {"type": "rule", "color": "#333333", "strokeWidth": 2},
      "encoding": {
        "x": {"datum": -8.704, "type": "quantitative", "scale": {"domain": [0, 30], "range": [895, 1250], "nice": false, "zero": false}, "axis": null},
        "x2": {"datum": 32},
        "y": {"datum": -0.41, "type": "quantitative", "scale": {"domain": [0, 1], "range": [223, 23], "nice": false, "zero": false}, "axis": null}
      }
    },
    {
      "data": {"name": "tabla"},
      "mark": {"type": "rect", "stroke": "white", "strokeWidth": 0.7},
      "encoding": {
        "x": {"datum": 5, "type": "quantitative", "scale": {"domain": [0, 465], "range": [792, 1257], "nice": false, "zero": false}, "axis": null},
        "x2": {"datum": 90},
        "y": {"field": "p", "type": "ordinal", "scale": {"domain": ["hdr", 0.01, 0.05, 0.1, 0.2, 0.3, 0.4, 0.5, 0.6, 0.7, 0.8, 0.9, 0.95, 0.99], "range": [307, 566], "paddingInner": 0, "paddingOuter": 0}, "axis": null},
        "fill": {"field": "p", "type": "quantitative", "scale": {"domain": [0.01, 0.5, 0.99], "range": ["#63be7b", "#ffeb84", "#f8696b"], "interpolate": "rgb"}, "legend": null}
      }
    },
    {
      "data": {"name": "tabla"},
      "mark": {"type": "rect", "stroke": "white", "strokeWidth": 0.7},
      "encoding": {
        "x": {"datum": 90, "type": "quantitative", "scale": {"domain": [0, 465], "range": [792, 1257], "nice": false, "zero": false}, "axis": null},
        "x2": {"datum": 171},
        "y": {"field": "p", "type": "ordinal", "scale": {"domain": ["hdr", 0.01, 0.05, 0.1, 0.2, 0.3, 0.4, 0.5, 0.6, 0.7, 0.8, 0.9, 0.95, 0.99], "range": [307, 566], "paddingInner": 0, "paddingOuter": 0}, "axis": null},
        "fill": {"field": "s", "type": "quantitative", "scale": {"domain": [-8.998, 13.276, 35.549], "range": ["#63be7b", "#ffeb84", "#f8696b"], "interpolate": "rgb"}, "legend": null}
      }
    },
    {
      "data": {"name": "tabla"},
      "mark": {"type": "rect", "stroke": "white", "strokeWidth": 0.7},
      "encoding": {
        "x": {"datum": 171, "type": "quantitative", "scale": {"domain": [0, 465], "range": [792, 1257], "nice": false, "zero": false}, "axis": null},
        "x2": {"datum": 330},
        "y": {"field": "p", "type": "ordinal", "scale": {"domain": ["hdr", 0.01, 0.05, 0.1, 0.2, 0.3, 0.4, 0.5, 0.6, 0.7, 0.8, 0.9, 0.95, 0.99], "range": [307, 566], "paddingInner": 0, "paddingOuter": 0}, "axis": null},
        "fill": {"field": "lo", "type": "quantitative", "scale": {"domain": [-21.292, 11.813, 29.598], "range": ["#5a8ac6", "#fcfcff", "#f8696b"], "interpolate": "rgb"}, "legend": null}
      }
    },
    {
      "data": {"name": "tabla"},
      "mark": {"type": "rect", "stroke": "white", "strokeWidth": 0.7},
      "encoding": {
        "x": {"datum": 330, "type": "quantitative", "scale": {"domain": [0, 465], "range": [792, 1257], "nice": false, "zero": false}, "axis": null},
        "x2": {"datum": 475},
        "y": {"field": "p", "type": "ordinal", "scale": {"domain": ["hdr", 0.01, 0.05, 0.1, 0.2, 0.3, 0.4, 0.5, 0.6, 0.7, 0.8, 0.9, 0.95, 0.99], "range": [307, 566], "paddingInner": 0, "paddingOuter": 0}, "axis": null},
        "fill": {"field": "hi", "type": "quantitative", "scale": {"domain": [-3.068, 14.749, 47.887], "range": ["#5a8ac6", "#fcfcff", "#f8696b"], "interpolate": "rgb"}, "legend": null}
      }
    },
    {
      "data": {"name": "tabla"},
      "mark": {"type": "text", "font": "Lato", "fontSize": 13.5, "color": "#111"},
      "encoding": {
        "x": {"datum": 47.5, "type": "quantitative", "scale": {"domain": [0, 465], "range": [792, 1257], "nice": false, "zero": false}, "axis": null},
        "y": {"field": "p", "type": "ordinal", "scale": {"domain": ["hdr", 0.01, 0.05, 0.1, 0.2, 0.3, 0.4, 0.5, 0.6, 0.7, 0.8, 0.9, 0.95, 0.99], "range": [307, 566], "paddingInner": 0, "paddingOuter": 0}, "axis": null},
        "text": {"field": "p", "type": "quantitative", "format": ".2f"}
      }
    },
    {
      "data": {"name": "tabla"},
      "mark": {"type": "text", "font": "Lato", "fontSize": 13.5, "color": "#111"},
      "encoding": {
        "x": {"datum": 130.5, "type": "quantitative", "scale": {"domain": [0, 465], "range": [792, 1257], "nice": false, "zero": false}, "axis": null},
        "y": {"field": "p", "type": "ordinal", "scale": {"domain": ["hdr", 0.01, 0.05, 0.1, 0.2, 0.3, 0.4, 0.5, 0.6, 0.7, 0.8, 0.9, 0.95, 0.99], "range": [307, 566], "paddingInner": 0, "paddingOuter": 0}, "axis": null},
        "text": {"field": "s", "type": "quantitative", "format": ".3f"}
      }
    },
    {
      "data": {"name": "tabla"},
      "mark": {"type": "text", "font": "Lato", "fontSize": 13.5, "color": "#111"},
      "encoding": {
        "x": {"datum": 250.5, "type": "quantitative", "scale": {"domain": [0, 465], "range": [792, 1257], "nice": false, "zero": false}, "axis": null},
        "y": {"field": "p", "type": "ordinal", "scale": {"domain": ["hdr", 0.01, 0.05, 0.1, 0.2, 0.3, 0.4, 0.5, 0.6, 0.7, 0.8, 0.9, 0.95, 0.99], "range": [307, 566], "paddingInner": 0, "paddingOuter": 0}, "axis": null},
        "text": {"field": "lo", "type": "quantitative", "format": ".3f"}
      }
    },
    {
      "data": {"name": "tabla"},
      "mark": {"type": "text", "font": "Lato", "fontSize": 13.5, "color": "#111"},
      "encoding": {
        "x": {"datum": 405, "type": "quantitative", "scale": {"domain": [0, 465], "range": [792, 1257], "nice": false, "zero": false}, "axis": null},
        "y": {"field": "p", "type": "ordinal", "scale": {"domain": ["hdr", 0.01, 0.05, 0.1, 0.2, 0.3, 0.4, 0.5, 0.6, 0.7, 0.8, 0.9, 0.95, 0.99], "range": [307, 566], "paddingInner": 0, "paddingOuter": 0}, "axis": null},
        "text": {"field": "hi", "type": "quantitative", "format": ".3f"}
      }
    },
    {
      "data": {"values": [{}]},
      "mark": {"type": "text", "font": "Lato", "fontSize": 13.5, "fontWeight": "bold", "color": "#111", "text": "Probabilidad"},
      "encoding": {
        "x": {"datum": 47.5, "type": "quantitative", "scale": {"domain": [0, 465], "range": [792, 1257], "nice": false, "zero": false}, "axis": null},
        "y": {"datum": "hdr", "type": "ordinal", "scale": {"domain": ["hdr", 0.01, 0.05, 0.1, 0.2, 0.3, 0.4, 0.5, 0.6, 0.7, 0.8, 0.9, 0.95, 0.99], "range": [307, 566], "paddingInner": 0, "paddingOuter": 0}, "axis": null}
      }
    },
    {
      "data": {"values": [{}]},
      "mark": {"type": "text", "font": "Lato", "fontSize": 13.5, "fontWeight": "bold", "color": "#111", "text": "Score"},
      "encoding": {
        "x": {"datum": 130.5, "type": "quantitative", "scale": {"domain": [0, 465], "range": [792, 1257], "nice": false, "zero": false}, "axis": null},
        "y": {"datum": "hdr", "type": "ordinal", "scale": {"domain": ["hdr", 0.01, 0.05, 0.1, 0.2, 0.3, 0.4, 0.5, 0.6, 0.7, 0.8, 0.9, 0.95, 0.99], "range": [307, 566], "paddingInner": 0, "paddingOuter": 0}, "axis": null}
      }
    },
    {
      "data": {"values": [{}]},
      "mark": {"type": "text", "font": "Lato", "fontSize": 13.5, "fontWeight": "bold", "color": "#111", "text": "Límite inferior 95%"},
      "encoding": {
        "x": {"datum": 250.5, "type": "quantitative", "scale": {"domain": [0, 465], "range": [792, 1257], "nice": false, "zero": false}, "axis": null},
        "y": {"datum": "hdr", "type": "ordinal", "scale": {"domain": ["hdr", 0.01, 0.05, 0.1, 0.2, 0.3, 0.4, 0.5, 0.6, 0.7, 0.8, 0.9, 0.95, 0.99], "range": [307, 566], "paddingInner": 0, "paddingOuter": 0}, "axis": null}
      }
    },
    {
      "data": {"values": [{}]},
      "mark": {"type": "text", "font": "Lato", "fontSize": 13.5, "fontWeight": "bold", "color": "#111", "text": "Límite superior 95%"},
      "encoding": {
        "x": {"datum": 400, "type": "quantitative", "scale": {"domain": [0, 465], "range": [792, 1257], "nice": false, "zero": false}, "axis": null},
        "y": {"datum": "hdr", "type": "ordinal", "scale": {"domain": ["hdr", 0.01, 0.05, 0.1, 0.2, 0.3, 0.4, 0.5, 0.6, 0.7, 0.8, 0.9, 0.95, 0.99], "range": [307, 566], "paddingInner": 0, "paddingOuter": 0}, "axis": null}
      }
    }
  ]
}
